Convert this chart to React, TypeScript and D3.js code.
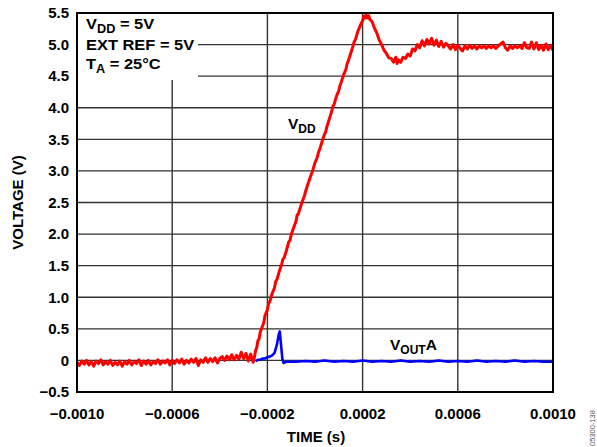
import * as d3 from "d3";

// time in microseconds, voltage in volts
const vddTrace: [number, number][] = [
  [-1000, -0.03], [-990, -0.08], [-980, -0.01], [-970, -0.06], [-960, 0.0], [-950, -0.07],
  [-940, -0.02], [-930, -0.09], [-920, -0.01], [-910, -0.05], [-900, 0.01], [-890, -0.07],
  [-880, -0.02], [-870, -0.06], [-860, 0.0], [-850, -0.08], [-840, -0.03], [-830, -0.07],
  [-820, -0.01], [-810, -0.09], [-800, -0.02], [-790, -0.06], [-780, 0.0], [-770, -0.07],
  [-760, -0.02], [-750, -0.05], [-740, 0.01], [-730, -0.08], [-720, -0.01], [-710, -0.06],
  [-700, 0.0], [-690, -0.07], [-680, -0.02], [-670, -0.05], [-660, 0.01], [-650, -0.06],
  [-640, -0.01], [-630, -0.04], [-620, 0.01], [-610, -0.07], [-600, 0.0], [-590, -0.05],
  [-580, 0.01], [-570, -0.04], [-560, 0.02], [-550, -0.06], [-540, 0.0], [-530, -0.04],
  [-520, 0.02], [-510, -0.03], [-500, 0.03], [-490, -0.08], [-480, 0.01], [-470, -0.03],
  [-460, 0.04], [-450, -0.03], [-440, 0.03], [-430, -0.02], [-420, 0.04], [-410, -0.04],
  [-400, 0.03], [-390, 0.06], [-380, 0.0], [-370, 0.07], [-360, 0.01], [-350, 0.09],
  [-340, 0.01], [-330, 0.08], [-320, 0.02], [-310, 0.13], [-300, 0.03], [-290, 0.11],
  [-280, -0.01], [-270, 0.1], [-260, -0.03], [-255, 0.04], [-250, 0.15], [-245, 0.2],
  [-240, 0.31], [-235, 0.34], [-230, 0.45], [-220, 0.55], [-215, 0.6], [-210, 0.71],
  [-200, 0.8], [-195, 0.9], [-190, 0.93], [-180, 1.06], [-170, 1.15], [-165, 1.25],
  [-160, 1.28], [-150, 1.41], [-140, 1.52], [-135, 1.6], [-130, 1.62], [-120, 1.74],
  [-110, 1.88], [-105, 1.9], [-100, 1.99], [-90, 2.1], [-80, 2.2], [-75, 2.3],
  [-70, 2.32], [-60, 2.44], [-50, 2.55], [-45, 2.6], [-40, 2.67], [-30, 2.79],
  [-20, 2.9], [-15, 2.95], [-10, 3.0], [0, 3.13], [10, 3.22], [15, 3.3],
  [20, 3.34], [30, 3.47], [40, 3.58], [45, 3.62], [50, 3.7], [60, 3.82],
  [70, 3.94], [75, 4.02], [80, 4.05], [90, 4.18], [100, 4.27], [105, 4.35],
  [110, 4.4], [120, 4.52], [130, 4.61], [135, 4.7], [140, 4.74], [150, 4.86],
  [160, 4.98], [165, 5.05], [170, 5.08], [180, 5.21], [190, 5.3], [200, 5.38],
  [205, 5.45], [210, 5.42], [215, 5.47], [220, 5.42], [225, 5.46], [230, 5.4],
  [240, 5.36], [250, 5.26], [260, 5.18], [270, 5.07], [280, 5.0], [290, 4.91],
  [300, 4.86], [310, 4.79], [320, 4.78], [330, 4.72], [340, 4.8], [345, 4.7],
  [350, 4.76], [360, 4.72], [370, 4.8], [380, 4.78], [390, 4.85], [400, 4.82],
  [410, 4.93], [420, 4.9], [430, 5.0], [440, 4.95], [450, 5.06], [460, 4.98],
  [470, 5.08], [480, 5.01], [490, 5.1], [500, 4.99], [510, 5.07], [520, 4.97],
  [530, 5.05], [540, 4.96], [550, 5.02], [560, 4.98], [570, 4.93], [580, 5.0],
  [590, 4.92], [600, 4.99], [610, 4.94], [620, 4.9], [630, 4.98], [640, 4.93],
  [650, 4.99], [660, 4.94], [670, 4.98], [680, 4.93], [690, 4.98], [700, 4.95],
  [710, 4.98], [720, 4.94], [730, 4.98], [740, 4.95], [750, 4.98], [760, 4.94],
  [770, 4.98], [780, 5.01], [790, 5.04], [800, 4.95], [810, 4.91], [820, 4.98],
  [830, 4.94], [840, 4.98], [850, 4.95], [860, 4.98], [870, 4.94], [880, 5.03],
  [890, 4.95], [900, 4.94], [910, 5.04], [920, 4.93], [930, 5.03], [940, 4.92],
  [950, 4.99], [960, 4.91], [970, 5.01], [980, 4.92], [990, 4.99], [1000, 4.91],
];

const voutTrace: [number, number][] = [
  [-250, -0.01], [-240, 0.01], [-230, 0.01], [-220, 0.03], [-210, 0.03], [-200, 0.05],
  [-190, 0.06], [-180, 0.08], [-170, 0.12], [-160, 0.25], [-152, 0.42], [-148, 0.46],
  [-142, 0.22], [-137, 0.02], [-132, -0.04], [-120, -0.02], [-80, -0.02], [-40, -0.01],
  [0, -0.02], [40, 0.0], [80, -0.02], [120, -0.01], [160, -0.02], [200, 0.0],
  [240, -0.02], [280, -0.01], [320, -0.02], [360, 0.0], [400, -0.02], [440, -0.01],
  [480, -0.02], [520, 0.0], [560, -0.02], [600, -0.01], [640, -0.02], [680, 0.0],
  [720, -0.02], [760, -0.01], [800, -0.02], [840, 0.0], [880, -0.02], [920, -0.01],
  [960, -0.02], [1000, -0.02],
];

const xGridTicks = [-1000, -600, -200, 200, 600, 1000];
const yTicks = [-0.5, 0, 0.5, 1.0, 1.5, 2.0, 2.5, 3.0, 3.5, 4.0, 4.5, 5.0, 5.5];

const W = 597;
const H = 447;
const left = 77;
const right = 553;
const top = 13;
const bottom = 392;
const font = "'Liberation Sans', Arial, sans-serif";

const App = () => {
  const x = d3.scaleLinear().domain([-1000, 1000]).range([left, right]);
  const y = d3.scaleLinear().domain([-0.5, 5.5]).range([bottom, top]);
  const line = d3
    .line<[number, number]>()
    .x((d) => x(d[0]))
    .y((d) => y(d[1]));
  const fmtX = (t: number) => d3.format(".4f")(t / 1e6);
  const fmtY = (v: number) => (v === 0 ? "0" : d3.format(".1f")(v));

  return (
    <svg
      width={W}
      height={H}
      style={{ position: "absolute", left: 0, top: 0, background: "#fff" }}
      fontFamily={font}
      fontWeight="bold"
    >
      {/* grid */}
      {yTicks.slice(1, -1).map((v) => (
        <line key={"h" + v} x1={left} x2={right} y1={y(v)} y2={y(v)} stroke="#333" strokeWidth={1.4} />
      ))}
      {xGridTicks.slice(1, -1).map((t) => (
        <line key={"v" + t} x1={x(t)} x2={x(t)} y1={top} y2={bottom} stroke="#333" strokeWidth={1.4} />
      ))}
      {/* legend box cover */}
      <rect x={left} y={top} width={198 - left} height={80 - top} fill="#fff" />
      <g transform="translate(86,0) scale(1.06,1)" fontSize={15.5}>
        <text x={0} y={29.5}>
          V<tspan dy={3.5} fontSize={12}>DD</tspan>
          <tspan dy={-3.5}> = 5V</tspan>
        </text>
        <text x={0} y={50}>EXT REF = 5V</text>
        <text x={0} y={69.5}>
          T<tspan dy={3.5} fontSize={12}>A</tspan>
          <tspan dy={-3.5}> = 25°C</tspan>
        </text>
      </g>

      {/* traces */}
      <path d={line(vddTrace) ?? ""} fill="none" stroke="#ff0000" strokeWidth={3} strokeLinejoin="round" />
      <path d={line(voutTrace) ?? ""} fill="none" stroke="#0000ff" strokeWidth={2.6} strokeLinejoin="round" />

      {/* frame */}
      <rect x={left} y={top} width={right - left} height={bottom - top} fill="none" stroke="#000" strokeWidth={2} />

      {/* trace labels */}
      <text fontSize={15.5} x={288} y={129}>
        V<tspan dy={3.5} fontSize={12}>DD</tspan>
      </text>
      <text fontSize={15.5} x={390} y={350}>
        V<tspan dy={3.5} fontSize={12}>OUT</tspan>
        <tspan dy={-3.5}>A</tspan>
      </text>

      {/* y ticks */}
      {yTicks.map((v) => (
        <text key={"yl" + v} x={69} y={y(v) + 5.3} fontSize={15} textAnchor="end">
          {fmtY(v)}
        </text>
      ))}
      {/* x ticks */}
      {xGridTicks.map((t) => (
        <text key={"xl" + t} x={x(t)} y={419} fontSize={15} textAnchor="middle">
          {fmtX(t)}
        </text>
      ))}

      <text x={316} y={442} fontSize={15} textAnchor="middle">
        TIME (s)
      </text>
      <text transform={`translate(22.5,${(top + bottom) / 2}) rotate(-90)`} fontSize={15} textAnchor="middle">
        VOLTAGE (V)
      </text>
      <text
        transform="translate(595,446) rotate(-90)"
        fontSize={7.5}
        fontWeight="normal"
        fill="#555"
      >
        05300-138
      </text>
    </svg>
  );
};

export default App;
